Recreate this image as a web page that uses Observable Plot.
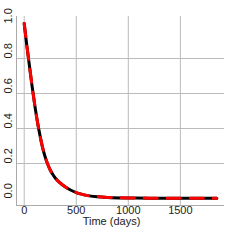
<!DOCTYPE html>
<html>
<head>
<meta charset="utf-8">
<script src="https://cdn.jsdelivr.net/npm/d3@7"></script>
<script src="https://cdn.jsdelivr.net/npm/@observablehq/plot@0.6"></script>
<style>
  html, body { margin: 0; padding: 0; background: #fff; }
  svg { display: block; }
</style>
</head>
<body>
<div id="chart"></div>
<script>
const days = [0, 25, 50, 75, 100, 125, 150, 175, 200, 225, 250, 275, 300, 350, 400, 450, 500, 550, 600, 700, 800, 1000, 1200, 1500, 1850];
const survival = [1.0, 0.875, 0.76, 0.645, 0.54, 0.445, 0.365, 0.295, 0.24, 0.197, 0.163, 0.137, 0.116, 0.086, 0.064, 0.047, 0.034, 0.025, 0.018, 0.01, 0.006, 0.003, 0.002, 0.001, 0.001];
const xTicks = [0, 500, 1000, 1500];
const yTicks = [0.0, 0.2, 0.4, 0.6, 0.8, 1.0];
const yGrid = [0.2, 0.4, 0.6, 0.8];
const xLabel = "Time (days)";

const data = days.map((d, i) => ({day: d, s: survival[i]}));
const xDomain = [-74, 1924];
const yDomain = [-0.04, 1.04];
const font = "Liberation Sans, Arial, sans-serif";

const chart = Plot.plot({
  width: 240,
  height: 240,
  marginLeft: 16,
  marginRight: 16,
  marginTop: 16,
  marginBottom: 35,
  style: {fontFamily: font, fontSize: "11px", background: "#fff"},
  x: {domain: xDomain, axis: null},
  y: {domain: yDomain, axis: null},
  marks: [
    Plot.ruleX(xTicks, {x: d => d, y1: yDomain[0], y2: yDomain[1], stroke: "#bbb", strokeWidth: 1}),
    Plot.ruleY(yGrid, {y: d => d, x1: xDomain[0], x2: xDomain[1], stroke: "#bbb", strokeWidth: 1}),
    Plot.ruleX([xDomain[0]], {y1: yDomain[0], y2: yDomain[1], stroke: "#aaa", strokeWidth: 1}),
    Plot.ruleY([yDomain[0]], {x1: xDomain[0], x2: xDomain[1], stroke: "#aaa", strokeWidth: 1}),
    Plot.line(data, {x: "day", y: "s", stroke: "#000", strokeWidth: 3, curve: "monotone-x"}),
    Plot.line(data, {x: "day", y: "s", stroke: "#ff0000", strokeWidth: 3, strokeDasharray: "13,10", curve: "monotone-x"}),
    Plot.text(xTicks, {x: d => d, frameAnchor: "bottom", lineAnchor: "top", dy: 1, text: d => String(d), fill: "#222", fontSize: 11}),
    Plot.text(yTicks, {y: d => d, frameAnchor: "left", dx: -8, rotate: -90, lineAnchor: "middle", text: d => d.toFixed(1), fill: "#222", fontSize: 11}),
    Plot.text([xLabel], {frameAnchor: "bottom", dx: -9, dy: 16, lineAnchor: "middle", text: d => d, fill: "#222", fontSize: 11})
  ]
});
document.getElementById("chart").appendChild(chart);
</script>
</body>
</html>
